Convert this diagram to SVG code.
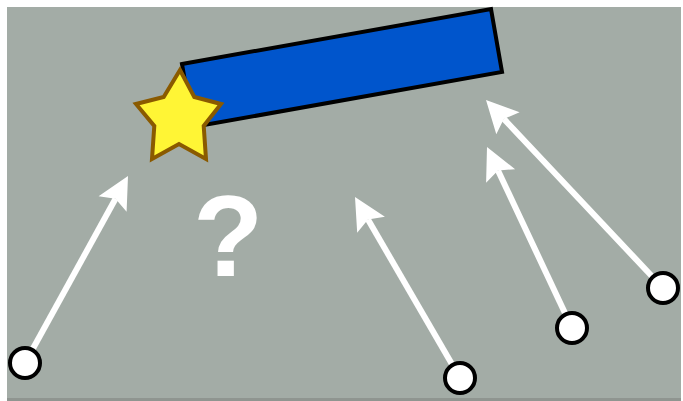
<svg xmlns="http://www.w3.org/2000/svg" width="683" height="401" viewBox="0 0 683 401">
  <defs>
    <style>
      .conn { stroke: #ffffff; stroke-width: 6; fill: none; }
      .head { fill: #ffffff; }
      .dot { fill: #ffffff; stroke: #000000; stroke-width: 4; }
    </style>
  </defs>
  <rect x="0" y="0" width="683" height="401" fill="#ffffff"/>
  <rect x="7" y="398" width="674" height="3" fill="#8f9590"/>
  <rect x="7" y="7" width="674" height="391" fill="#a3aca6"/>
  <g id="bar">
    <polygon points="182,64 491,9 502,72 193,127" fill="#0055cc" stroke="#000000" stroke-width="4" stroke-linejoin="miter"/>
  </g>
  <g id="star">
    <polygon points="180,70 194.3,97 221,104 203.7,126 206,159 179,144 152,159 154.3,126 136,104 163.7,97" fill="#fff535" stroke="#8a5a00" stroke-width="4" stroke-linejoin="miter"/>
  </g>
  <g id="question">
    <text x="228" y="276" font-family="Liberation Sans, Arial, sans-serif" font-weight="bold" font-size="115" fill="#ffffff" text-anchor="middle">?</text>
  </g>
  <g id="connectors">
    <line class="conn" x1="25" y1="363" x2="115.5" y2="198.8"/>
    <polygon class="head" points="128,176 126.6,211.8 115.5,198.8 98.6,196.3"/>
    <line class="conn" x1="460" y1="378" x2="368" y2="219.5"/>
    <polygon class="head" points="355,197 384.9,216.7 368,219.5 357.2,232.7"/>
    <line class="conn" x1="572" y1="328" x2="498" y2="170.5"/>
    <polygon class="head" points="487,147 515.1,169.2 498,170.5 486.1,182.8"/>
    <line class="conn" x1="663" y1="288" x2="503.8" y2="118.9"/>
    <polygon class="head" points="486,100 519.6,112.3 503.8,118.9 496.3,134.3"/>
  </g>
  <g id="node1"><circle class="dot" cx="25" cy="363" r="15"/></g>
  <g id="node2"><circle class="dot" cx="460" cy="378" r="15"/></g>
  <g id="node3"><circle class="dot" cx="572" cy="328" r="15"/></g>
  <g id="node4"><circle class="dot" cx="663" cy="288" r="15"/></g>
</svg>
